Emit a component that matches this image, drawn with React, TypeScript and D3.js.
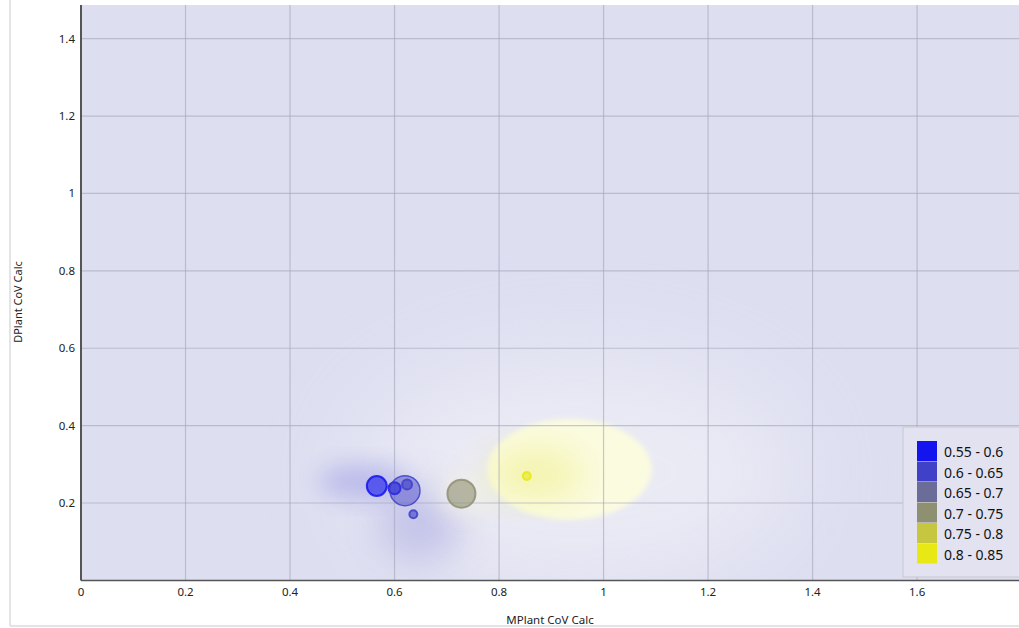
import React from "react";
import * as d3 from "d3";

const W = 1019;
const H = 628;

const pointX = [0.566, 0.6, 0.62, 0.624, 0.636, 0.728, 0.853];
const pointY = [0.244, 0.238, 0.232, 0.248, 0.171, 0.224, 0.27];
const pointSize = [44, 16, 100, 11, 7, 87, 7];
const pointValue = [0.57, 0.58, 0.62, 0.63, 0.62, 0.72, 0.82];

const legendLabels = ["0.55 - 0.6", "0.6 - 0.65", "0.65 - 0.7", "0.7 - 0.75", "0.75 - 0.8", "0.8 - 0.85"];
const legendBreaks = [0.6, 0.65, 0.7, 0.75, 0.8];
const legendColors = ["#1414ee", "#4040c8", "#6c6c98", "#8f8f72", "#c6c640", "#e8e814"];

const xTicks = [0, 0.2, 0.4, 0.6, 0.8, 1, 1.2, 1.4, 1.6];
const yTicks = [0.2, 0.4, 0.6, 0.8, 1, 1.2, 1.4];

// heat field spots: [x, y, rx, ry] in data units
const haloSpot = [0.95, 0.28, 0.42, 0.3];
const yellowSpot = [0.935, 0.287, 0.157, 0.13];
const yellowCore = [0.87, 0.275, 0.09, 0.06];
const blueLeft = [0.54, 0.255, 0.085, 0.045];
const blueBelow = [0.65, 0.15, 0.08, 0.1];

export default function App() {
  const left = 81, right = 1019, top = 5, bottom = 580.4;
  const x = d3.scaleLinear().domain([0, 1.795]).range([left, right]);
  const y = d3.scaleLinear().domain([0, 1.487]).range([bottom, top]);
  const r = d3.scaleSqrt().domain([0, 100]).range([0, 15]);
  const color = d3.scaleThreshold<number, string>().domain(legendBreaks).range(legendColors);
  const rx = (v: number) => x(v) - x(0);
  const ry = (v: number) => y(0) - y(v);
  const font = "'Noto Sans', 'DejaVu Sans', sans-serif";

  const spot = (s: number[], fill: string, op: number, filter: string) => (
    <ellipse cx={x(s[0])} cy={y(s[1])} rx={rx(s[2])} ry={ry(s[3])} fill={fill} opacity={op} filter={filter} />
  );

  return (
    <svg width={W} height={H} style={{ position: "absolute", left: 0, top: 0, background: "#fff" }}>
      <defs>
        <clipPath id="plot">
          <rect x={left} y={top} width={right - left} height={bottom - top} />
        </clipPath>
        <filter id="b40" x="-50%" y="-50%" width="200%" height="200%"><feGaussianBlur stdDeviation="45" /></filter>
        <filter id="b15" x="-50%" y="-50%" width="200%" height="200%"><feGaussianBlur stdDeviation="18" /></filter>
        <filter id="b10" x="-50%" y="-50%" width="200%" height="200%"><feGaussianBlur stdDeviation="12" /></filter>
        <filter id="b3" x="-50%" y="-50%" width="200%" height="200%"><feGaussianBlur stdDeviation="2.5" /></filter>
      </defs>
      <line x1={10} y1={0} x2={10} y2={626} stroke="#e4e4e4" strokeWidth={2} />
      <line x1={10} y1={626} x2={W} y2={626} stroke="#e4e4e4" strokeWidth={2} />
      <g clipPath="url(#plot)">
        <rect x={left} y={top} width={right - left} height={bottom - top} fill="#dddef0" />
        {spot(haloSpot, "#f3f3f8", 0.6, "url(#b40)")}
        {spot(blueLeft, "#8a8ae2", 0.45, "url(#b10)")}
        {spot(blueBelow, "#9494dc", 0.4, "url(#b15)")}
        <ellipse cx={x(pointX[5]) + 4} cy={y(pointY[5])} rx={28} ry={22} fill="#f2f2ea" opacity={0.8} filter="url(#b10)" />
        {spot(yellowSpot, "#fbfbe0", 1, "url(#b3)")}
        {spot(yellowCore, "#ecec7a", 0.55, "url(#b15)")}
        {xTicks.map((t) => (
          <line key={"gx" + t} x1={x(t)} x2={x(t)} y1={top} y2={bottom} stroke="#a4a4b8" strokeWidth={1.2} opacity={0.6} />
        ))}
        {yTicks.map((t) => (
          <line key={"gy" + t} x1={left} x2={right} y1={y(t)} y2={y(t)} stroke="#a4a4b8" strokeWidth={1.2} opacity={0.6} />
        ))}
        {pointX.map((px, i) => (
          <circle key={i} cx={x(px)} cy={y(pointY[i])} r={r(pointSize[i])}
            fill={color(pointValue[i])} fillOpacity={i === 2 ? 0.45 : 0.6}
            stroke={color(pointValue[i])} strokeOpacity={0.85} strokeWidth={i === 2 ? 1.5 : 2} />
        ))}
      </g>
      <line x1={left} x2={left} y1={top} y2={bottom} stroke="#555" strokeWidth={2} />
      <line x1={left} x2={right} y1={bottom} y2={bottom} stroke="#555" strokeWidth={1.5} />
      {xTicks.map((t) => (
        <text key={"tx" + t} x={x(t)} y={596} textAnchor="middle" fontFamily={font} fontSize={11.5} fill="#222">{t}</text>
      ))}
      {yTicks.map((t) => (
        <text key={"ty" + t} x={75} y={y(t) + 4} textAnchor="end" fontFamily={font} fontSize={11.5} fill="#222">{t}</text>
      ))}
      <text x={550} y={624} textAnchor="middle" fontFamily={font} fontSize={11.5} fill="#222">MPlant CoV Calc</text>
      <text transform={`translate(22,302) rotate(-90)`} textAnchor="middle" fontFamily={font} fontSize={11} fill="#222">DPlant CoV Calc</text>
      <g>
        <rect x={903} y={427} width={118} height={150} fill="#e2e2f0" stroke="#c8c8d0" strokeWidth={1} />
        {legendLabels.map((lab, i) => (
          <g key={lab}>
            <rect x={917} y={441 + i * 20.5} width={20} height={20} fill={legendColors[i]} />
            <text x={944} y={457 + i * 20.5} fontFamily={font} fontSize={14} fill="#111">{lab}</text>
          </g>
        ))}
      </g>
    </svg>
  );
}
